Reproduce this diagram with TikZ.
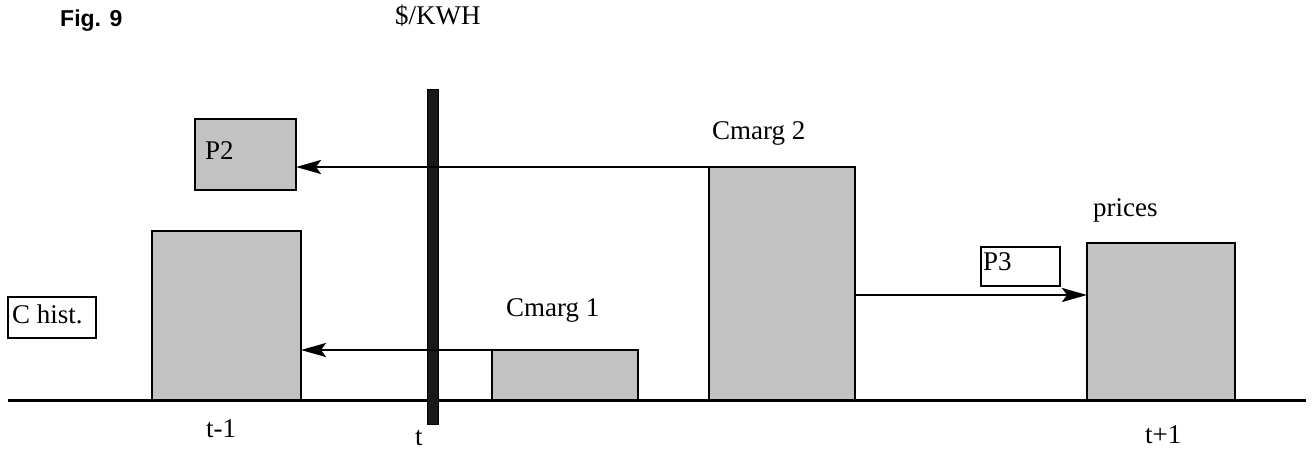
\documentclass[tikz,border=0pt]{standalone}
\usepackage{fontspec}
\setmainfont{Liberation Serif}
\newfontfamily\figfont{Liberation Sans}
\usetikzlibrary{arrows.meta}
\begin{document}
\begin{tikzpicture}[x=1pt,y=-1pt,
  shaded/.style={draw=black, line width=1.8pt, fill=gray!48, inner sep=0pt, outer sep=0pt},
  lbl/.style={anchor=base west, inner sep=0pt, font=\fontsize{27}{30}\selectfont},
  arr/.style={line width=2.4pt, -{Stealth[length=25pt,width=14pt,inset=5pt]}},
  textbox/.style={draw=black, line width=1.3pt, fill=white, inner sep=0pt, outer sep=0pt},
  barstyle/.style={draw=black, line width=0.8pt, fill=gray!20!black, inner sep=0pt, outer sep=0pt}
]
\useasboundingbox (0,0) rectangle (1312,449);
% baseline
\coordinate (bl) at (8,400);
\coordinate (br) at (1306,400);
\draw[line width=3pt] (bl) -- (br);
% shaded bars
\node[shaded, minimum width=149pt, minimum height=169pt] (tm1) at (226.5,315.5) {};
\node[shaded, minimum width=146pt, minimum height=50pt] (cm1) at (565,375) {};
\node[shaded, minimum width=146pt, minimum height=233pt] (cm2) at (782,283.5) {};
\node[shaded, minimum width=148pt, minimum height=157pt] (pr) at (1161,321.5) {};
\node[shaded, minimum width=101pt, minimum height=71pt] (p2) at (245.5,154.5) {};
% vertical time bar
\node[barstyle, minimum width=11pt, minimum height=335pt] (tbar) at (432.5,256.5) {};
% text boxes
\node[textbox, minimum width=88pt, minimum height=41pt] (chist) at (52,317.5) {};
\node[textbox, minimum width=79pt, minimum height=39pt] (p3) at (1020.5,266.5) {};
% arrows
\draw[arr] (cm2.north west) -- (cm2.north west -| p2.east);
\draw[arr] (cm1.north west) -- (cm1.north west -| tm1.east);
\coordinate (a3s) at (855,295);
\draw[arr] (a3s) -- (a3s -| pr.west);
% labels
\node[lbl] (lp2) at (205,160) {P2};
\node[lbl] (lp3) at (983,270) {P3};
\node[lbl] (lch) at (12,323) {C hist.};
\node[lbl] (lc2) at (712,140) {Cmarg 2};
\node[lbl] (lc1) at (506,316) {Cmarg 1};
\node[lbl] (lpr) at (1093,217) {prices};
\node[lbl] (ltm) at (206,437) {t-1};
\node[lbl] (lt) at (415,445) {t};
\node[lbl] (ltp) at (1145,443) {t+1};
\node[lbl] (lunit) at (395,25) {\$/KWH};
\node[anchor=base west, inner sep=0pt, font=\figfont\bfseries\fontsize{23}{26}\selectfont] (fig) at (60,27) {Fig. 9};
\end{tikzpicture}
\end{document}
